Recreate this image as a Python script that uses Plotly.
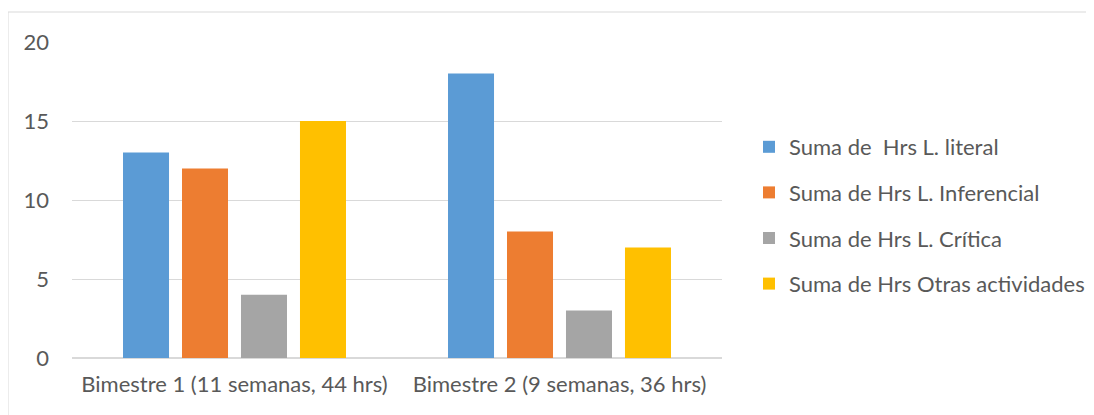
import plotly.graph_objects as go

categories = ["Bimestre 1 (11 semanas, 44 hrs)", "Bimestre 2 (9 semanas, 36 hrs)"]
series_names = ["Suma de \u00a0Hrs L. literal", "Suma de Hrs L. Inferencial",
                "Suma de Hrs L. Crítica", "Suma de Hrs Otras actividades"]
literal = [13, 18]
inferencial = [12, 8]
critica = [4, 3]
otras = [15, 7]
colors = ["#5B9BD5", "#ED7D31", "#A5A5A5", "#FFC000"]

fig = go.Figure()
for i, (name, vals) in enumerate(zip(series_names, [literal, inferencial, critica, otras])):
    fig.add_trace(go.Bar(x=categories, y=vals, name=name, marker_color=colors[i],
                         marker_line_width=0, legendgroup=str(i)))

# page offset: the html body has an 8px margin
OFF = 8
W, H = 1094, 415
l, r, t, b = 72 - OFF, 372 + OFF, 42 - OFF, 57 + OFF
pw, ph = W - l - r, H - t - b

def px_x(xp):  # page x -> paper
    return (xp - OFF - l) / pw

def px_y(yp):  # page y -> paper
    return (H - (yp - OFF) - b) / ph

FS = 22
fig.update_layout(
    width=W, height=H,
    margin=dict(l=l, r=r, t=t, b=b),
    paper_bgcolor="white", plot_bgcolor="white",
    barmode="group", bargap=0.274, bargroupgap=0.22,
    font=dict(family="Lato", color="#595959", size=FS),
    showlegend=True,
    legend=dict(x=px_x(749), y=px_y(126), xanchor="left", yanchor="top",
                font=dict(size=FS, color="#595959"), traceorder="grouped",
                tracegroupgap=14, itemwidth=30, bgcolor="rgba(0,0,0,0)"),
    xaxis=dict(showgrid=False, showline=True, linecolor="#d9d9d9", linewidth=1,
               ticks="", tickfont=dict(size=FS, color="#595959"), ticklabelstandoff=7),
    yaxis=dict(range=[0, 20], dtick=5, showgrid=True, gridcolor="#d9d9d9", gridwidth=1,
               zeroline=True, zerolinecolor="#d9d9d9", showline=False, ticks="",
               tickfont=dict(size=FS, color="#595959"), ticklabelstandoff=22),
    shapes=[dict(type="rect", xref="paper", yref="paper",
                 x0=px_x(8), x1=px_x(W + 20),
                 y0=px_y(H + 20), y1=px_y(12),
                 line=dict(color="#d9d9d9", width=1), fillcolor="rgba(0,0,0,0)", layer="below")],
)

fig.write_html("out.html")
